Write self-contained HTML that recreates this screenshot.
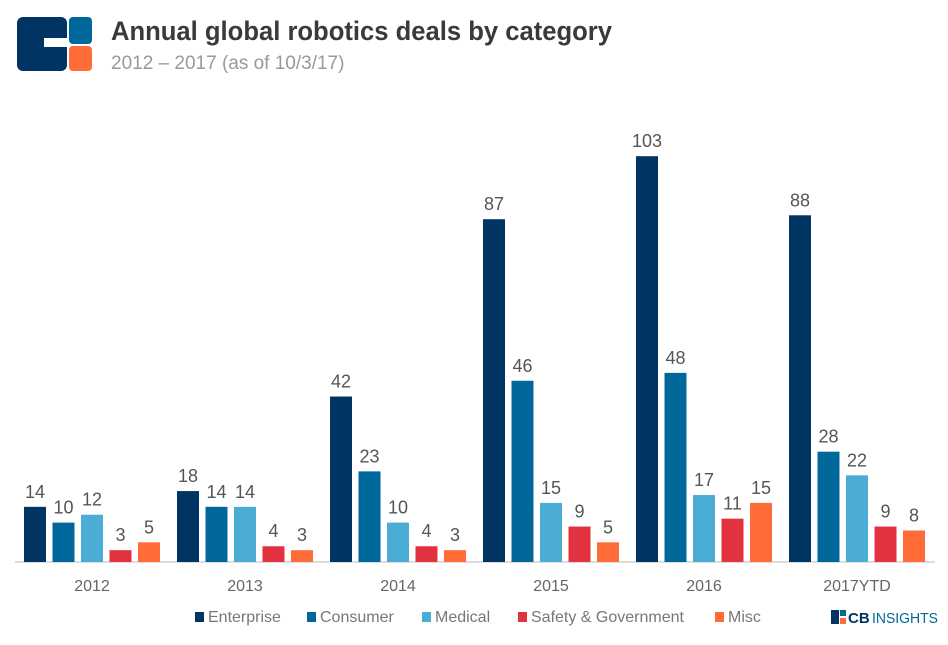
<!DOCTYPE html>
<html><head><meta charset="utf-8"><style>
body{margin:0;background:#fff;width:948px;height:640px;overflow:hidden;font-family:"Liberation Sans",sans-serif}
</style></head><body>
<svg width="948" height="640" viewBox="0 0 948 640">
<g>
<rect x="17" y="17" width="50" height="54" rx="6" fill="#003462"/>
<rect x="44" y="38" width="24" height="9" fill="#fff"/>
<rect x="69" y="17" width="23" height="27" rx="4" fill="#00679b"/>
<rect x="69" y="46" width="23" height="25" rx="4" fill="#ff6c37"/>
</g>
<text x="111" y="40" font-size="27" font-weight="bold" fill="#3a3a3a" textLength="501" lengthAdjust="spacingAndGlyphs">Annual global robotics deals by category</text>
<text x="111" y="69" font-size="19" fill="#999">2012 – 2017 (as of 10/3/17)</text>
<line x1="15" y1="562" x2="935" y2="562" stroke="#bbb" stroke-width="1"/>
<g id="bars"></g>
<g id="legend"></g>
<g>
<rect x="831" y="610" width="8" height="14" fill="#003462"/>
<rect x="840" y="610" width="6" height="6" fill="#00679b"/>
<rect x="840" y="618" width="6" height="6" fill="#ff6c37"/>
<text x="848" y="623" font-size="15" font-weight="bold" fill="#003462">CB</text>
<text x="872" y="623" font-size="15" fill="#00679b" textLength="66" lengthAdjust="spacingAndGlyphs">INSIGHTS</text>
</g>
</svg>
<script>
const categories=["2012","2013","2014","2015","2016","2017YTD"];
const seriesNames=["Enterprise","Consumer","Medical","Safety & Government","Misc"];
const enterprise=[14,18,42,87,103,88];
const consumer=[10,14,23,46,48,28];
const medical=[12,14,10,15,17,22];
const safety=[3,4,4,9,11,9];
const misc=[5,3,3,5,15,8];
const series=[enterprise,consumer,medical,safety,misc];
const colors=["#003462","#00679b","#4bacd6","#e3323f","#ff6c37"];
const NS="http://www.w3.org/2000/svg";
const base=562,scale=3.94;
const y=v=>base-v*scale;
const xc=i=>92+i*153;
const bw=22,step=28.5;
const g=document.getElementById('bars');
function mk(t,a){const e=document.createElementNS(NS,t);for(const k in a)e.setAttribute(k,a[k]);return e;}
categories.forEach((c,i)=>{
  series.forEach((s,j)=>{
    const cx=xc(i)+(j-2)*step;
    const r=mk('rect',{x:cx-bw/2,y:y(s[i]),width:bw,height:s[i]*scale,fill:colors[j]});
    
    
    g.appendChild(r);
    const t=mk('text',{x:cx,y:y(s[i])-9,'text-anchor':'middle','font-size':18,fill:'#555'});
    t.textContent=s[i];
    
    
    g.appendChild(t);
  });
  const l=mk('text',{x:xc(i),y:591,'text-anchor':'middle','font-size':16,fill:'#666'});
  l.textContent=c;
  
  
  g.appendChild(l);
});
const lg=document.getElementById('legend');
const lx=[195,307,422,518,715];
seriesNames.forEach((n,j)=>{
  const r=mk('rect',{x:lx[j],y:612,width:9,height:10,fill:colors[j]});
  
  
  lg.appendChild(r);
  const t=mk('text',{x:lx[j]+13,y:622,'font-size':16,fill:'#777'});
  t.textContent=n;
  
  
  lg.appendChild(t);
});
</script>
</body></html>
